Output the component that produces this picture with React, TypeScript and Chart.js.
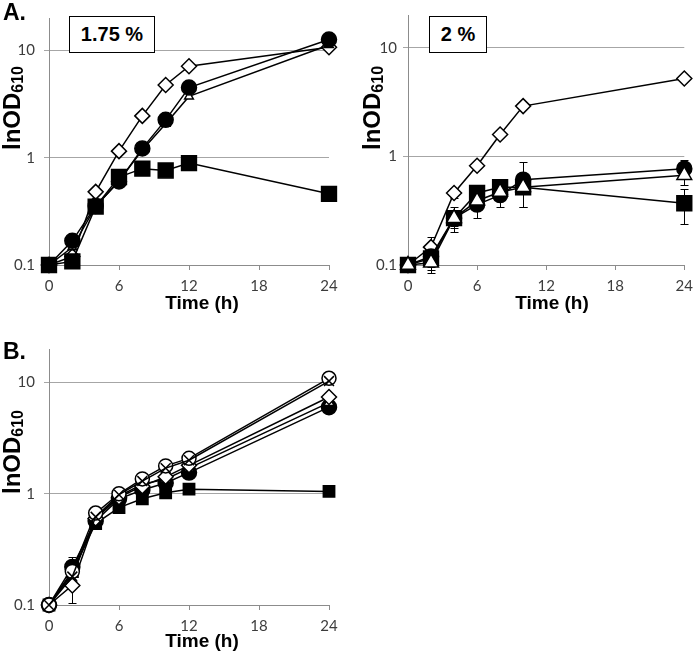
import React, { useEffect, useRef } from 'react';
import { Chart, registerables } from 'chart.js';

Chart.register(...registerables);

// ---------- data ----------
const xTickStep = 6;
const yTickValues = [0.1, 1, 10];

// Panel A, 1.75 %
const hoursA1 = [0, 2, 4, 6, 8, 10, 12, 24];
const a1Diamond = [0.1, 0.12, 0.48, 1.15, 2.45, 4.75, 7.1, 10.7];
const a1Circle = [0.1, 0.168, 0.355, 0.6, 1.22, 2.25, 4.5, 12.6];
const a1Triangle = [0.1, 0.146, 0.35, 0.61, 1.18, 2.07, 3.72, 11.2];
const a1Square = [0.1, 0.108, 0.35, 0.66, 0.79, 0.76, 0.89, 0.46];
const a1SquareErr = [0, 0, 0, 0, 0, 0, 0, 0.05];

// Panel A, 2 %
const hoursA2 = [0, 2, 4, 6, 8, 10, 24];
const a2Diamond = [0.1, 0.146, 0.46, 0.82, 1.59, 2.9, 5.2];
const a2Circle = [0.1, 0.12, 0.27, 0.36, 0.44, 0.61, 0.77];
const a2Triangle = [0.1, 0.105, 0.27, 0.39, 0.47, 0.52, 0.67];
const a2Square = [0.1, 0.115, 0.27, 0.46, 0.52, 0.52, 0.37];
const a2DiamondErr = [0, 0.035, 0.05, 0, 0, 0, 0];
const a2CircleErr = [0, 0.03, 0.07, 0.09, 0.1, 0.27, 0.15];
const a2TriangleErr = [0, 0.02, 0.05, 0.04, 0.06, 0.18, 0.12];
const a2SquareErr = [0, 0.02, 0.04, 0.05, 0.06, 0.05, 0.13];

// Panel B
const hoursB = [0, 2, 4, 6, 8, 10, 12, 24];
const bOpenCircle = [0.1, 0.2, 0.67, 1.0, 1.36, 1.78, 2.08, 10.9];
const bCross = [0.1, 0.18, 0.62, 0.98, 1.3, 1.7, 2.0, 10.3];
const bDiamond = [0.1, 0.15, 0.6, 0.93, 1.17, 1.42, 1.8, 7.4];
const bTriangle = [0.1, 0.19, 0.6, 0.95, 1.22, 1.35, 1.7, 6.6];
const bFilledCircle = [0.1, 0.22, 0.57, 0.9, 1.08, 1.25, 1.55, 6.0];
const bSquare = [0.1, 0.2, 0.54, 0.75, 0.9, 1.02, 1.1, 1.05];
const bOpenCircleErr = [0, 0, 0.03, 0.03, 0.05, 0.08, 0.1, 0.8];
const bDiamondErr = [0, 0.045, 0, 0, 0, 0, 0, 0];
const bFilledCircleErr = [0, 0.05, 0.03, 0.05, 0.05, 0.08, 0.1, 0.4];
const bSquareErr = [0, 0, 0, 0.05, 0, 0, 0, 0.05];

// ---------- helpers ----------
type Style = {
  pointStyle: string;
  radius: number;
  fill: string;
};

const DIAMOND: Style = { pointStyle: 'rectRot', radius: 7.5, fill: '#ffffff' };
const CIRCLE: Style = { pointStyle: 'circle', radius: 7.5, fill: '#000000' };
const OPEN_CIRCLE: Style = { pointStyle: 'circle', radius: 7, fill: '#ffffff' };
const SQUARE: Style = { pointStyle: 'rect', radius: 10.5, fill: '#000000' };
const SMALL_SQUARE: Style = { pointStyle: 'rect', radius: 8, fill: '#000000' };
const TRI_SMALL: Style = { pointStyle: 'triangle', radius: 5, fill: '#ffffff' };
const TRI_BIG: Style = { pointStyle: 'triangle', radius: 8.5, fill: '#ffffff' };
const TRI_MID: Style = { pointStyle: 'triangle', radius: 6, fill: '#ffffff' };
const CROSS: Style = { pointStyle: 'crossRot', radius: 7, fill: '#ffffff' };

function makeSeries(hours: number[], values: number[], style: Style, errors?: number[]) {
  return {
    data: hours.map((h, i) => ({ x: h, y: values[i] })),
    errors,
    borderColor: '#000',
    borderWidth: 1.5,
    pointStyle: style.pointStyle,
    pointRadius: style.radius,
    pointBackgroundColor: style.fill,
    pointBorderColor: '#000',
    pointBorderWidth: 1.5,
    tension: 0,
    clip: false as const,
    fill: false,
  };
}

const errorBarPlugin = {
  id: 'errorBars',
  beforeDatasetsDraw(chart: any) {
    const { ctx } = chart;
    const xs = chart.scales.x;
    const ys = chart.scales.y;
    ctx.save();
    ctx.strokeStyle = '#000';
    ctx.lineWidth = 1;
    chart.data.datasets.forEach((ds: any) => {
      if (!ds.errors) return;
      ds.data.forEach((p: any, i: number) => {
        const e = ds.errors[i];
        if (!e) return;
        const x = Math.round(xs.getPixelForValue(p.x)) + 0.5;
        const yl = Math.round(ys.getPixelForValue(Math.max(p.y - e, 0.01))) + 0.5;
        const yh = Math.round(ys.getPixelForValue(p.y + e)) + 0.5;
        ctx.beginPath();
        ctx.moveTo(x, yl);
        ctx.lineTo(x, yh);
        ctx.moveTo(x - 4, yl);
        ctx.lineTo(x + 4, yl);
        ctx.moveTo(x - 4, yh);
        ctx.lineTo(x + 4, yh);
        ctx.stroke();
      });
    });
    ctx.restore();
  },
};

const tickFont = { family: 'Lato, "Open Sans", sans-serif', size: 15 };
const tickColor = '#3c3c3c';

type PanelProps = {
  left: number;
  top: number;
  width: number;
  height: number;
  padTop: number;
  padRight: number;
  yWidth: number;
  xHeight: number;
  yLabelPad: number;
  build: () => any[];
};

function Panel(props: PanelProps) {
  const ref = useRef<HTMLCanvasElement>(null);
  useEffect(() => {
    const chart = new Chart(ref.current as HTMLCanvasElement, {
      type: 'line',
      data: { datasets: props.build() },
      options: {
        animation: false,
        responsive: false,
        devicePixelRatio: 1,
        layout: { padding: { top: props.padTop, right: props.padRight, left: 0, bottom: 0 } },
        plugins: { legend: { display: false }, tooltip: { enabled: false } },
        scales: {
          x: {
            type: 'linear',
            min: 0,
            max: 24,
            afterFit: (s: any) => {
              s.height = props.xHeight;
            },
            ticks: { stepSize: xTickStep, font: tickFont, color: tickColor, padding: 7 },
            grid: { drawOnChartArea: false, drawTicks: true, tickLength: 5, color: '#8c8c8c' },
            border: { color: '#8c8c8c', width: 1 },
          },
          y: {
            type: 'logarithmic',
            min: 0.1,
            max: 20,
            afterFit: (s: any) => {
              s.width = props.yWidth;
            },
            afterBuildTicks: (s: any) => {
              s.ticks = yTickValues.map((v) => ({ value: v }));
            },
            ticks: {
              callback: (v: any) => String(v),
              font: tickFont,
              color: tickColor,
              padding: props.yLabelPad,
            },
            grid: { color: '#a6a6a6', tickLength: 5, lineWidth: 1 },
            border: { color: '#8c8c8c', width: 1 },
          },
        },
      } as any,
      plugins: [errorBarPlugin],
    });
    return () => chart.destroy();
  }, []);
  return (
    <canvas
      ref={ref}
      width={props.width}
      height={props.height}
      style={{ position: 'absolute', left: props.left, top: props.top }}
    />
  );
}

const boldFont = '"Liberation Sans", Arial, sans-serif';

function YTitle({ cx, cy }: { cx: number; cy: number }) {
  return (
    <div
      style={{
        position: 'absolute',
        left: cx,
        top: cy,
        transform: 'translate(-50%, -50%) rotate(-90deg)',
        fontFamily: boldFont,
        fontWeight: 'bold',
        fontSize: 24,
        whiteSpace: 'nowrap',
        color: '#000',
        lineHeight: '26px',
      }}
    >
      lnOD<span style={{ fontSize: 16, verticalAlign: '-3px' }}>610</span>
    </div>
  );
}

function XTitle({ cx, top }: { cx: number; top: number }) {
  return (
    <div
      style={{
        position: 'absolute',
        left: cx,
        top,
        transform: 'translateX(-50%)',
        fontFamily: boldFont,
        fontWeight: 'bold',
        fontSize: 19,
        lineHeight: '19px',
        whiteSpace: 'nowrap',
        color: '#000',
      }}
    >
      Time (h)
    </div>
  );
}

function Box({ left, top, width, height, text }: any) {
  return (
    <div
      style={{
        position: 'absolute',
        left,
        top,
        width,
        height,
        boxSizing: 'border-box',
        border: '1.5px solid #000',
        background: '#fff',
        display: 'flex',
        alignItems: 'center',
        justifyContent: 'center',
        fontFamily: boldFont,
        fontWeight: 'bold',
        fontSize: 20,
        color: '#000',
      }}
    >
      {text}
    </div>
  );
}

function PanelLetter({ left, top, text }: any) {
  return (
    <div
      style={{
        position: 'absolute',
        left,
        top,
        fontFamily: boldFont,
        fontWeight: 'bold',
        fontSize: 23,
        lineHeight: '23px',
        color: '#000',
      }}
    >
      {text}
    </div>
  );
}

export default function App() {
  return (
    <div style={{ position: 'absolute', left: 0, top: 0, width: 700, height: 659, background: '#fff', overflow: 'hidden' }}>
      <Panel
        left={0}
        top={0}
        width={350}
        height={320}
        padTop={9}
        padRight={21}
        yWidth={49}
        xHeight={55}
        yLabelPad={9}
        build={() => [
          makeSeries(hoursA1, a1Square, SQUARE, a1SquareErr),
          makeSeries(hoursA1, a1Circle, CIRCLE),
          makeSeries(hoursA1, a1Triangle, TRI_SMALL),
          makeSeries(hoursA1, a1Diamond, DIAMOND),
        ]}
      />
      <Panel
        left={350}
        top={0}
        width={350}
        height={320}
        padTop={9}
        padRight={13}
        yWidth={58}
        xHeight={55}
        yLabelPad={6}
        build={() => [
          makeSeries(hoursA2, a2Triangle, TRI_BIG, a2TriangleErr),
          makeSeries(hoursA2, a2Circle, CIRCLE, a2CircleErr),
          makeSeries(hoursA2, a2Square, SQUARE, a2SquareErr),
          makeSeries(hoursA2, a2Diamond, DIAMOND, a2DiamondErr),
        ]}
      />
      <Panel
        left={0}
        top={320}
        width={350}
        height={339}
        padTop={29}
        padRight={21}
        yWidth={49}
        xHeight={54}
        yLabelPad={9}
        build={() => [
          makeSeries(hoursB, bCross, CROSS),
          makeSeries(hoursB, bOpenCircle, OPEN_CIRCLE, bOpenCircleErr),
          makeSeries(hoursB, bDiamond, DIAMOND, bDiamondErr),
          makeSeries(hoursB, bTriangle, TRI_MID),
          makeSeries(hoursB, bFilledCircle, CIRCLE, bFilledCircleErr),
          makeSeries(hoursB, bSquare, SMALL_SQUARE, bSquareErr),
        ]}
      />
      <PanelLetter left={3} top={1} text="A." />
      <PanelLetter left={3} top={340} text="B." />
      <Box left={69} top={16} width={86} height={37} text="1.75 %" />
      <Box left={429} top={16} width={58} height={37} text="2 %" />
      <YTitle cx={15} cy={108} />
      <YTitle cx={375} cy={108} />
      <YTitle cx={15} cy={452} />
      <XTitle cx={202} top={293} />
      <XTitle cx={552} top={293} />
      <XTitle cx={202} top={631} />
    </div>
  );
}
